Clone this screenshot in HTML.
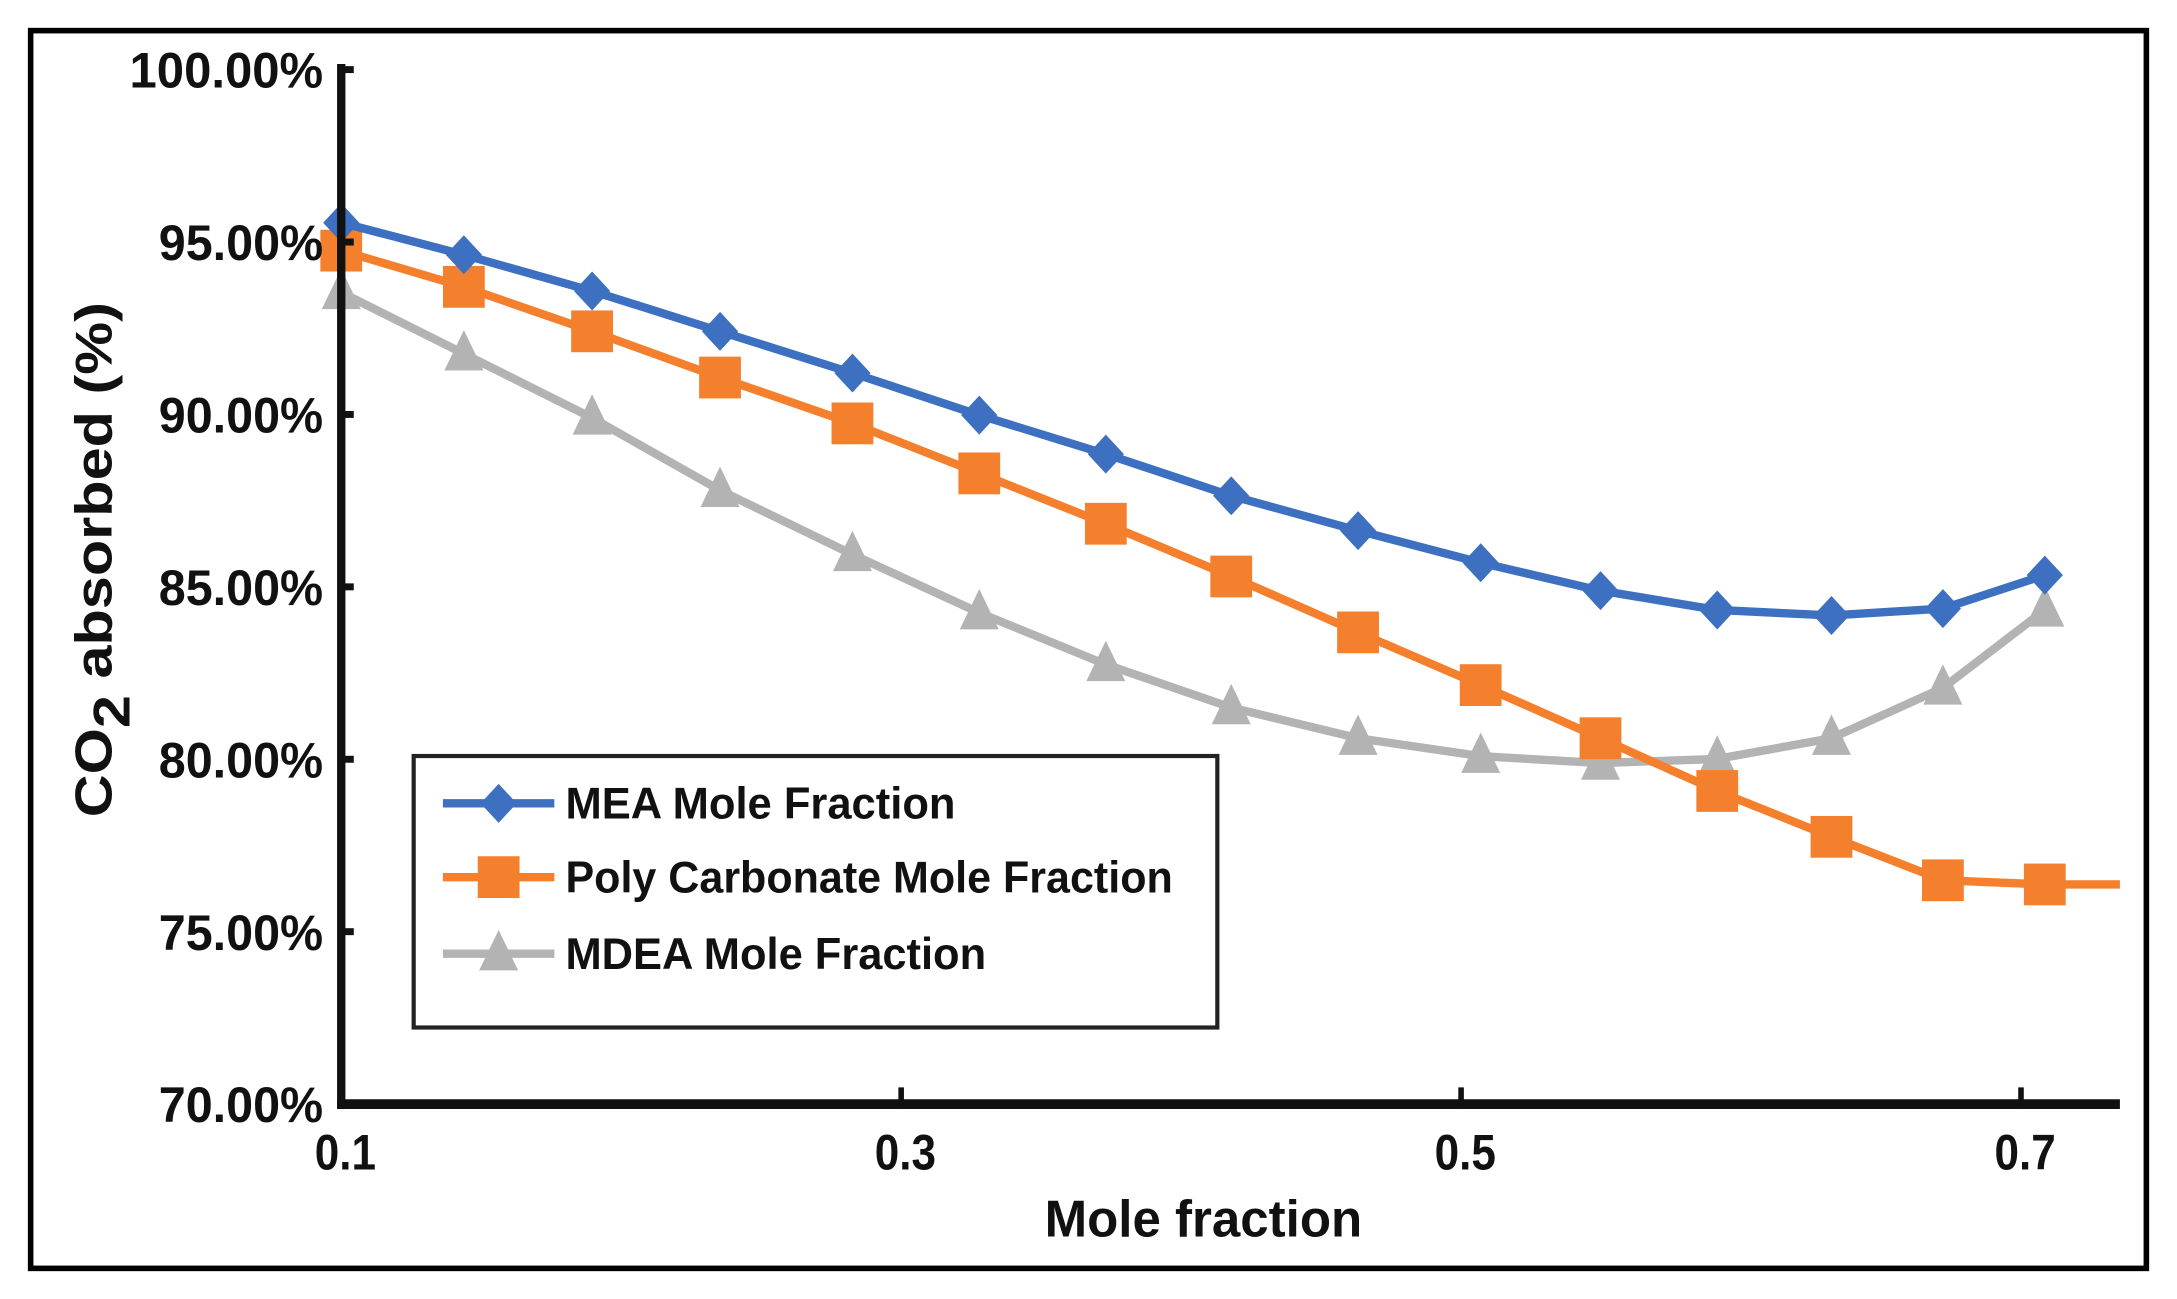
<!DOCTYPE html>
<html><head><meta charset="utf-8"><style>html,body{margin:0;padding:0;background:#fff}svg{display:block}text{font-family:"Liberation Sans",Arial,sans-serif;font-weight:bold;fill:#111}</style></head>
<body>
<svg id="chart" width="2177" height="1299" viewBox="0 0 1563 933" preserveAspectRatio="none" xmlns="http://www.w3.org/2000/svg">
<rect x="22" y="22" width="1519" height="889" fill="#fff" stroke="#000" stroke-width="4"/>
<g id="series"></g>
<g id="axes"></g>
<text transform="translate(80,402) rotate(-90)" text-anchor="middle" font-size="37" textLength="370" lengthAdjust="spacingAndGlyphs">CO<tspan dy="13">2</tspan><tspan dy="-13"> absorbed (%)</tspan></text>
<text x="864" y="888" text-anchor="middle" font-size="37" textLength="228" lengthAdjust="spacingAndGlyphs">Mole fraction</text>
<g>
<rect x="297" y="543" width="577" height="195" fill="#fff" stroke="#222" stroke-width="3"/>
<g id="legend-items"></g>
</g>
</svg>
<script>
const xValues=[0.1,0.1438,0.1896,0.2353,0.2826,0.3279,0.3731,0.4179,0.4632,0.5070,0.5498,0.5915,0.6323,0.6721,0.7085];
const meaValues=[95.56,94.63,93.58,92.41,91.20,89.98,88.85,87.64,86.63,85.70,84.89,84.33,84.17,84.37,85.34];
const pcValues=[94.75,93.70,92.41,91.07,89.74,88.29,86.83,85.30,83.68,82.15,80.61,79.08,77.75,76.49,76.37];
const mdeaValues=[93.54,91.76,89.90,87.80,85.94,84.25,82.75,81.50,80.61,80.09,79.89,80.01,80.61,82.07,84.33];
const yTicks=[70,75,80,85,90,95,100];
const yTickLabels=["70.00%","75.00%","80.00%","85.00%","90.00%","95.00%","100.00%"];
const xTicks=[0.1,0.3,0.5,0.7];
const xTickLabels=["0.1","0.3","0.5","0.7"];
const seriesNames=["MEA Mole Fraction","Poly Carbonate Mole Fraction","MDEA Mole Fraction"];

const NS="http://www.w3.org/2000/svg";
const X0=245,X1=1522,Y0=793,Y1=50;
function sx(v){return X0+(v-0.1)/0.2*402;}
function sy(v){return Y0-(v-70)/30*(Y0-Y1);}
function mk(tag,attrs,parent){const e=document.createElementNS(NS,tag);for(const k in attrs)e.setAttribute(k,attrs[k]);parent.appendChild(e);return e;}
const axes=document.getElementById('axes'),series=document.getElementById('series'),leg=document.getElementById('legend-items');

let ya=mk('line',{x1:X0,y1:Y1-4,x2:X0,y2:Y0+3,stroke:'#111','stroke-width':6},axes);


let xa=mk('line',{x1:X0-3,y1:Y0,x2:X1,y2:Y0,stroke:'#111','stroke-width':7},axes);


yTicks.forEach((t,i)=>{
  const tk=mk('line',{x1:X0,y1:sy(t),x2:X0+9,y2:sy(t),stroke:'#111','stroke-width':5},axes);
  
  
  const tx=mk('text',{x:232,y:sy(t)+13,'text-anchor':'end','font-size':36,textLength:(i===6?139:118),lengthAdjust:'spacingAndGlyphs'},axes);
  tx.textContent=yTickLabels[i];
  
  
});
xTicks.forEach((t,i)=>{
  const tk=mk('line',{x1:sx(t),y1:Y0,x2:sx(t),y2:Y0-12,stroke:'#111','stroke-width':4},axes);
  
  
  const tx=mk('text',{x:sx(t)+3,y:840,'text-anchor':'middle','font-size':36,textLength:44,lengthAdjust:'spacingAndGlyphs'},axes);
  tx.textContent=xTickLabels[i];
  
  
});
function marker(kind,x,y,color,parent){
  let e;
  if(kind==='diamond')e=mk('polygon',{points:`${x},${y-14} ${x+13},${y} ${x},${y+14} ${x-13},${y}`,fill:color},parent);
  else if(kind==='square')e=mk('rect',{x:x-15,y:y-15,width:30,height:30,fill:color},parent);
  else e=mk('polygon',{points:`${x},${y-17} ${x+14},${y+12} ${x-14},${y+12}`,fill:color},parent);
  return e;
}
const defs=[[meaValues,'#3d70c0','diamond','mea'],[pcValues,'#f47f2c','square','polycarbonate'],[mdeaValues,'#b3b3b3','triangle','mdea']];
[defs[2],defs[1],defs[0]].forEach(([vals,color,kind,key])=>{
  const g=mk('g',{},series);
  
  
  let pts=vals.map((v,i)=>sx(xValues[i])+','+sy(v));
  if(key==='polycarbonate')pts.push(X1+','+sy(vals[vals.length-1]));
  const pl=mk('polyline',{points:pts.join(' '),fill:'none',stroke:color,'stroke-width':6,'stroke-linejoin':'round'},g);
  
  
  vals.forEach((v,i)=>{
    const m=marker(kind,sx(xValues[i]),sy(v),color,g);
    
    
  });
});
const legLens=[280,436,302];
defs.forEach(([vals,color,kind,key],i)=>{
  const y=[577,630,685][i];
  const g=mk('g',{},leg);
  
  
  mk('line',{x1:318,y1:y,x2:398,y2:y,stroke:color,'stroke-width':6},g);
  marker(kind,358,y,color,g);
  const t=mk('text',{x:406,y:y+11,'font-size':32,textLength:legLens[i],lengthAdjust:'spacingAndGlyphs'},g);
  t.textContent=seriesNames[i];
});
</script>
</body></html>
